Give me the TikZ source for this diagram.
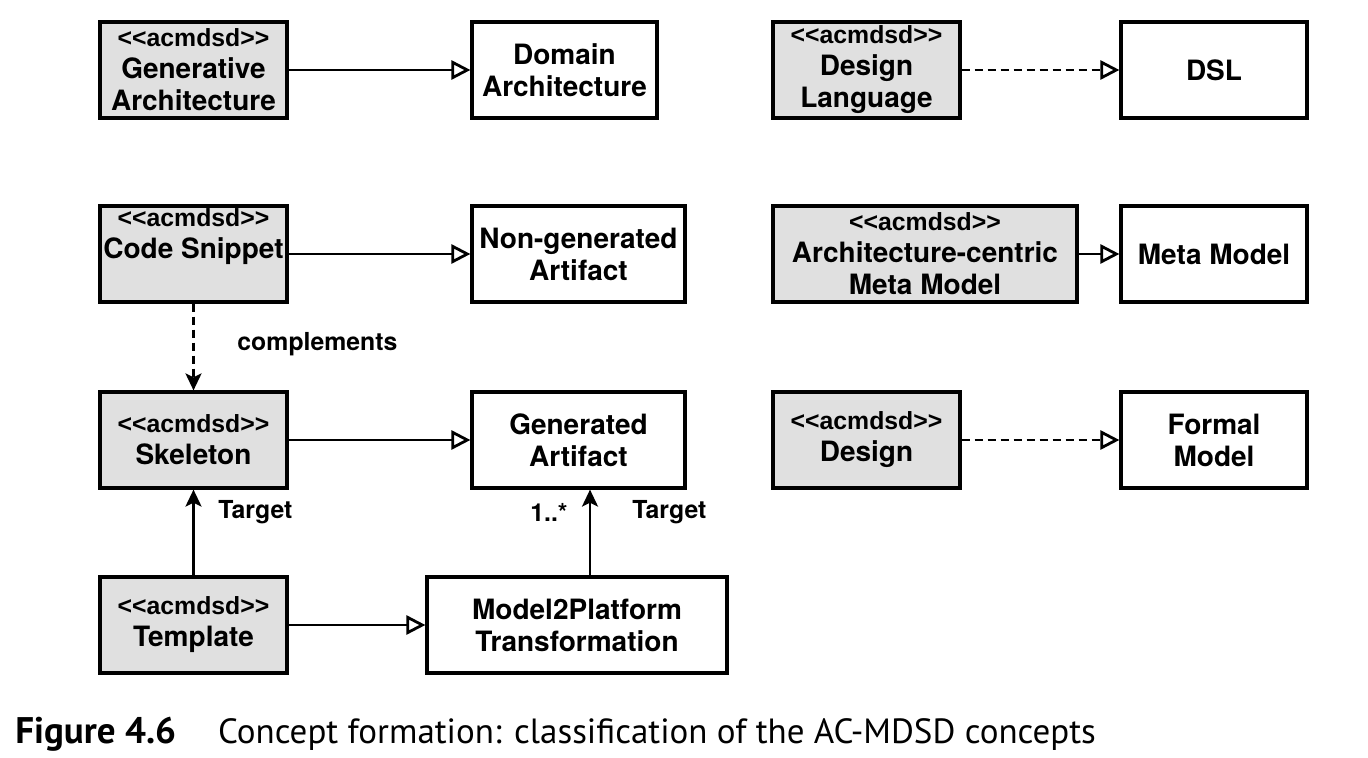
\documentclass[tikz,border=0pt]{standalone}
\usepackage{fontspec}
\setmainfont{TeX Gyre Heros}
\newfontfamily\capfont{PT Sans}
\newfontfamily\stfont[Ligatures=NoCommon]{Liberation Sans}
\usetikzlibrary{arrows.meta}
\definecolor{boxgray}{RGB}{224,224,224}
\newcommand\stereo{{\stfont\bfseries\fontsize{12.4}{16}\selectfont <\kern0pt<acmdsd>\kern0pt>}}
\begin{document}
\begin{tikzpicture}[x=0.5pt,y=-0.5pt,
  box/.style={draw, line width=1.6pt, align=center, inner sep=0pt, minimum height=48pt, font=\bfseries\fontsize{14}{16}\selectfont},
  gbox/.style={box, fill=boxgray, minimum width=93.5pt},
  wbox/.style={box, fill=white, minimum width=93pt},
  gen/.style={line width=1.4pt, -{Triangle[open, length=9.5pt, width=9.5pt]}},
  dep/.style={line width=1.4pt, dash pattern=on 4pt off 2.5pt, -{Triangle[open, length=9.5pt, width=9.5pt]}},
  assoc/.style={line width=1.4pt, -{Stealth[length=8.5pt, width=8pt, inset=2pt]}},
  dassoc/.style={assoc, dash pattern=on 4pt off 2.5pt},
  lbl/.style={font=\bfseries\fontsize{12.4}{15}\selectfont, inner sep=0pt}
]
\path[use as bounding box] (0,0) rectangle (1368,758);

\node[gbox] (ga) at (193.5,70) {\stereo\\Generative\\Architecture};
\node[wbox, minimum width=92.5pt] (da) at (564.5,70) {Domain\\Architecture};
\node[gbox] (dl) at (866.5,70) {\stereo\\Design\\Language};
\node[wbox] (dsl) at (1214,70) {DSL};

\node[gbox] (cs) at (193.5,254) {\stereo\\Code Snippet\\\strut};
\node[wbox, minimum width=106.5pt] (ng) at (578.5,254) {Non-generated\\Artifact};
\node[gbox, minimum width=152pt] (ac) at (925,254) {\stereo\\Architecture-centric\\Meta Model};
\node[wbox] (mm) at (1214,254) {Meta Model};

\node[gbox] (sk) at (193.5,440) {\stereo\\Skeleton};
\node[wbox, minimum width=106.5pt] (gart) at (578.5,440) {Generated\\Artifact};
\node[gbox] (de) at (866.5,440) {\stereo\\Design};
\node[wbox] (fm) at (1214,440) {Formal\\Model};

\node[gbox] (tp) at (193.5,625) {\stereo\\Template};
\node[wbox, minimum width=150pt] (m2p) at (577,625) {Model2Platform\\Transformation};

\draw[gen] (ga) -- (da);
\draw[dep] (dl) -- (dsl);
\draw[gen] (cs) -- (ng);
\draw[gen] (ac) -- (mm);
\draw[gen] (sk) -- (gart);
\draw[dep] (de) -- (fm);
\draw[gen] (tp) -- (m2p);
\draw[dassoc] (cs) -- (sk);
\draw[assoc] (tp) -- (sk);
\draw[assoc] ([xshift=6.5pt]m2p.north) -- ([xshift=5.75pt]gart.south);

\node[lbl, anchor=west] (lc) at (237,344) {complements};
\node[lbl, anchor=west] (lt1) at (218,512) {Target};
\node[lbl, anchor=east] (lm) at (568,512) {1..*};
\node[lbl, anchor=west] (lt2) at (632,512) {Target};

\node[anchor=base west, inner sep=0pt, font=\capfont\fontsize{17.5}{20}\selectfont] (cap) at (15,743)
  {\textbf{\fontsize{18.5}{20}\selectfont Figure 4.6}\hspace{21pt}Concept formation: classification of the AC-MDSD concepts};
\end{tikzpicture}
\end{document}
